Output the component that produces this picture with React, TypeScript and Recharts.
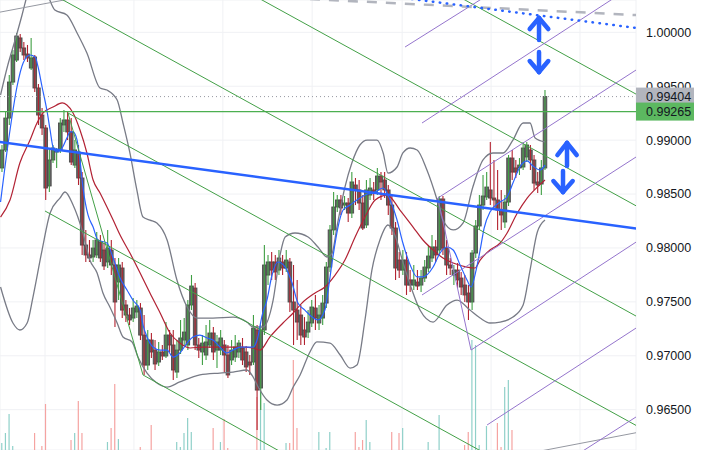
import React from 'react';
import { ComposedChart, Bar, Line, XAxis, YAxis, ReferenceLine, Cell, CartesianGrid } from 'recharts';

// ---------- candle data (price) ----------
const opens = [
  0.98742, 0.98909, 0.99205, 0.99539, 0.99743, 0.99948, 0.99855, 0.99799, 0.99669, 0.99771,
  0.99484, 0.99233, 0.99113, 0.98575, 0.98816, 0.98890, 0.98909, 0.99141, 0.99187, 0.99076,
  0.98769, 0.98890, 0.98649, 0.98027, 0.97935, 0.97916, 0.97935, 0.98055, 0.97981, 0.97870,
  0.97981, 0.97842, 0.97684, 0.97814, 0.97471, 0.97378, 0.97350, 0.97406, 0.97443, 0.97192,
  0.96914, 0.97146, 0.97053, 0.96942, 0.97035, 0.96998, 0.97192, 0.97100, 0.96849, 0.97053,
  0.97146, 0.97100, 0.97471, 0.97628, 0.97100, 0.97035, 0.97007, 0.97100, 0.97211, 0.97053,
  0.97053, 0.97100, 0.97007, 0.96961, 0.96988, 0.97035, 0.97072, 0.97035, 0.96942, 0.96942,
  0.97239, 0.96701, 0.97239, 0.97749, 0.97870, 0.97870, 0.97795, 0.97870, 0.97814, 0.97870,
  0.97499, 0.97424, 0.97378, 0.97239, 0.97220, 0.97304, 0.97443, 0.97304, 0.97350, 0.97489,
  0.97823, 0.98167, 0.98380, 0.98445, 0.98398, 0.98417, 0.98324, 0.98584, 0.98538, 0.98417,
  0.98213, 0.98491, 0.98538, 0.98538, 0.98667, 0.98630, 0.98538, 0.98398, 0.98185, 0.97888,
  0.97795, 0.97888, 0.97703, 0.97656, 0.97684, 0.97656, 0.97721, 0.97814, 0.97907, 0.98009,
  0.97981, 0.98454, 0.97999, 0.97842, 0.97749, 0.97795, 0.97721, 0.97656, 0.97582, 0.97499,
  0.97953, 0.98204, 0.98398, 0.98473, 0.98538, 0.98463, 0.98445, 0.98352, 0.98241, 0.98426,
  0.98834, 0.98742, 0.98742, 0.98751, 0.98844, 0.98909, 0.98816, 0.98612, 0.98593, 0.98742,
];
const highs = [
  0.98955, 0.99261, 0.99604, 0.99836, 0.99994, 0.99985, 0.99910, 0.99883, 0.99948, 0.99790,
  0.99521, 0.99298, 0.99141, 0.98909, 0.98955, 0.98927, 0.99205, 0.99280, 0.99261, 0.99205,
  0.99001, 0.98955, 0.98704, 0.98167, 0.98074, 0.98074, 0.98148, 0.98120, 0.98046, 0.98167,
  0.98074, 0.97907, 0.97907, 0.97870, 0.97517, 0.97443, 0.97536, 0.97517, 0.97489, 0.97378,
  0.97239, 0.97211, 0.97146, 0.97128, 0.97100, 0.97313, 0.97239, 0.97239, 0.97146, 0.97332,
  0.97350, 0.97517, 0.97749, 0.97675, 0.97165, 0.97192, 0.97285, 0.97332, 0.97267, 0.97192,
  0.97239, 0.97146, 0.97100, 0.97146, 0.97192, 0.97146, 0.97165, 0.97090, 0.97007, 0.97378,
  0.97285, 0.97285, 0.98027, 0.97935, 0.97962, 0.97935, 0.97981, 0.97935, 0.97981, 0.97907,
  0.97842, 0.97703, 0.97471, 0.97359, 0.97424, 0.97517, 0.97564, 0.97471, 0.97564, 0.97870,
  0.98213, 0.98519, 0.98491, 0.98491, 0.98482, 0.98463, 0.98704, 0.98649, 0.98630, 0.98491,
  0.98630, 0.98649, 0.98612, 0.98742, 0.98704, 0.98704, 0.98584, 0.98491, 0.98241, 0.97962,
  0.97981, 0.97962, 0.97795, 0.97842, 0.97795, 0.97795, 0.97888, 0.98027, 0.98120, 0.98074,
  0.98482, 0.98482, 0.98074, 0.97907, 0.97842, 0.97860, 0.97777, 0.97749, 0.97656, 0.97981,
  0.98259, 0.98491, 0.98677, 0.98704, 0.98983, 0.98816, 0.98723, 0.98538, 0.98491, 0.98862,
  0.98909, 0.98816, 0.98834, 0.98983, 0.98983, 0.98955, 0.98862, 0.98704, 0.98816, 0.99465,
];
const lows = [
  0.98704, 0.98890, 0.99141, 0.99512, 0.99725, 0.99818, 0.99743, 0.99725, 0.99651, 0.99447,
  0.99141, 0.99048, 0.98445, 0.98519, 0.98788, 0.98742, 0.98881, 0.99076, 0.99001, 0.98769,
  0.98742, 0.98584, 0.97935, 0.97870, 0.97870, 0.97870, 0.97907, 0.97870, 0.97795, 0.97814,
  0.97749, 0.97267, 0.97517, 0.97350, 0.97313, 0.97285, 0.97313, 0.97350, 0.97146, 0.96822,
  0.96868, 0.96979, 0.96868, 0.96905, 0.96961, 0.96979, 0.97035, 0.96775, 0.96794, 0.97016,
  0.97090, 0.97053, 0.97424, 0.97053, 0.96979, 0.96914, 0.96961, 0.97072, 0.96961, 0.96886,
  0.97007, 0.96849, 0.96794, 0.96914, 0.96942, 0.96979, 0.96914, 0.96849, 0.96822, 0.96914,
  0.96311, 0.96497, 0.97192, 0.97656, 0.97703, 0.97703, 0.97749, 0.97749, 0.97777, 0.97406,
  0.97100, 0.97146, 0.97100, 0.97100, 0.97165, 0.97267, 0.97239, 0.97239, 0.97285, 0.97443,
  0.97777, 0.98120, 0.98334, 0.98306, 0.98352, 0.98241, 0.98278, 0.98398, 0.98352, 0.98167,
  0.98185, 0.98445, 0.98445, 0.98491, 0.98445, 0.98463, 0.98306, 0.98120, 0.97703, 0.97721,
  0.97749, 0.97564, 0.97591, 0.97610, 0.97610, 0.97591, 0.97684, 0.97777, 0.97870, 0.97870,
  0.97935, 0.97935, 0.97749, 0.97749, 0.97656, 0.97628, 0.97564, 0.97499, 0.97332, 0.97424,
  0.97907, 0.98167, 0.98352, 0.98445, 0.98398, 0.98352, 0.98167, 0.98167, 0.98185, 0.98389,
  0.98630, 0.98649, 0.98677, 0.98723, 0.98797, 0.98723, 0.98538, 0.98510, 0.98491, 0.98723,
];
const closes = [
  0.98909, 0.99205, 0.99539, 0.99790, 0.99966, 0.99855, 0.99790, 0.99762, 0.99762, 0.99484,
  0.99233, 0.99113, 0.98556, 0.98816, 0.98927, 0.98909, 0.99159, 0.99187, 0.99076, 0.98797,
  0.98909, 0.98649, 0.98027, 0.97935, 0.97907, 0.97999, 0.98074, 0.97907, 0.97833, 0.97999,
  0.97842, 0.97499, 0.97842, 0.97424, 0.97378, 0.97332, 0.97443, 0.97461, 0.97192, 0.96914,
  0.97146, 0.97035, 0.96924, 0.97035, 0.96998, 0.97192, 0.97100, 0.96868, 0.97053, 0.97165,
  0.97220, 0.97471, 0.97647, 0.97100, 0.97053, 0.97118, 0.97128, 0.97211, 0.97035, 0.97128,
  0.97165, 0.97007, 0.96822, 0.97053, 0.97081, 0.97118, 0.96961, 0.96896, 0.96914, 0.97257,
  0.96682, 0.97239, 0.97842, 0.97870, 0.97795, 0.97777, 0.97907, 0.97814, 0.97888, 0.97499,
  0.97424, 0.97313, 0.97192, 0.97174, 0.97313, 0.97452, 0.97350, 0.97378, 0.97489, 0.97823,
  0.98167, 0.98380, 0.98445, 0.98371, 0.98417, 0.98324, 0.98612, 0.98538, 0.98417, 0.98185,
  0.98538, 0.98556, 0.98510, 0.98667, 0.98612, 0.98538, 0.98398, 0.98185, 0.97814, 0.97795,
  0.97888, 0.97656, 0.97656, 0.97703, 0.97647, 0.97721, 0.97823, 0.97925, 0.98009, 0.97935,
  0.98454, 0.97999, 0.97842, 0.97814, 0.97795, 0.97703, 0.97638, 0.97564, 0.97499, 0.97953,
  0.98204, 0.98398, 0.98482, 0.98565, 0.98463, 0.98445, 0.98352, 0.98306, 0.98426, 0.98834,
  0.98704, 0.98704, 0.98769, 0.98927, 0.98955, 0.98816, 0.98602, 0.98584, 0.98742, 0.99404,
];
const volumes = [
  7, 17, 36, 4, 0, 0, 0, 0, 0, 17,
  0, 4, 46, 0, 0, 0, 0, 0, 0, 10,
  17, 49, 17, 0, 0, 0, 0, 0, 0, 8,
  22, 66, 11, 0, 0, 0, 0, 0, 3, 0,
  0, 25, 0, 0, 0, 0, 0, 0, 8, 3,
  17, 32, 18, 0, 0, 0, 0, 0, 22, 0,
  8, 31, 2, 0, 0, 0, 0, 0, 0, 0,
  53, 60, 47, 0, 0, 0, 0, 0, 7, 7,
  90, 22, 0, 0, 0, 0, 0, 18, 0, 2,
  18, 0, 0, 0, 0, 0, 0, 18, 3, 10,
  30, 8, 0, 0, 0, 0, 0, 18, 0, 17,
  22, 0, 0, 0, 0, 0, 0, 8, 0, 0,
  35, 0, 0, 0, 0, 0, 0, 5, 18, 110,
  105, 5, 0, 24, 0, 0, 27, 3, 63, 70,
  20, 0, 0, 0, 0, 0, 0, 0, 0, 0,
];

// ---------- indicator lines: [bar index, price] ----------
const fastMA = [
  [-0.4, 0.98426], [2.2, 0.99094], [4.1, 0.99493], [5.8, 0.99716], [7.7, 0.9979], [9.1, 0.99771],
  [9.9, 0.99679], [11.0, 0.99493], [12.3, 0.9928], [13.2, 0.99094], [14.0, 0.98936], [15.1, 0.9889],
  [16.5, 0.98927], [17.8, 0.9902], [18.7, 0.99076], [19.5, 0.99076], [20.6, 0.99001], [21.4, 0.98816],
  [22.2, 0.98565], [23.6, 0.98306], [25.0, 0.98194], [26.3, 0.98074], [28.8, 0.98046], [30.5, 0.97907],
  [32.4, 0.97721], [34.3, 0.9761], [35.9, 0.97517], [37.9, 0.97424], [38.7, 0.97285], [39.8, 0.97174],
  [41.4, 0.97081], [43.4, 0.97053], [45.3, 0.97053], [46.9, 0.96988], [48.8, 0.97026], [50.8, 0.97118],
  [52.4, 0.97174], [54.3, 0.97192], [56.3, 0.97165], [57.9, 0.97146], [59.8, 0.97081], [61.7, 0.97026],
  [63.4, 0.97053], [65.3, 0.97081], [67.2, 0.97081], [68.9, 0.97081], [70.0, 0.97146], [71.4, 0.97378],
  [72.7, 0.97517], [74.1, 0.97749], [75.7, 0.9787], [77.7, 0.97823], [79.6, 0.97675], [81.2, 0.97489],
  [83.1, 0.97424], [85.1, 0.97359], [86.7, 0.97332], [88.6, 0.97424], [89.5, 0.9761], [90.8, 0.97916],
  [92.2, 0.98194], [93.6, 0.98352], [95.5, 0.98398], [97.4, 0.98445], [99.6, 0.98491], [102.4, 0.98519],
  [104.6, 0.98556], [106.5, 0.98445], [108.4, 0.98259], [110.0, 0.98046], [112.0, 0.97842], [113.9, 0.97731],
  [115.5, 0.97731], [118.3, 0.97823], [120.2, 0.97953], [122.1, 0.98009], [123.8, 0.97981], [125.7, 0.97842],
  [127.6, 0.97703], [128.7, 0.97638], [130.1, 0.97795], [131.2, 0.97981], [132.3, 0.98185], [133.9, 0.98334],
  [136.7, 0.98426], [138.6, 0.98473], [140.2, 0.98602], [142.1, 0.98751], [144.1, 0.98807], [145.7, 0.9876],
  [147.6, 0.98723], [149.0, 0.98769],
];
const slowMA = [
  [-0.4, 0.98287], [2.2, 0.98445], [4.9, 0.98788], [7.7, 0.99001], [9.6, 0.99159], [11.3, 0.99252],
  [14.0, 0.99307], [16.5, 0.99345], [17.8, 0.99326], [19.5, 0.99252], [21.4, 0.99094], [23.3, 0.98881],
  [25.0, 0.9863], [26.9, 0.9851], [28.8, 0.9838], [30.5, 0.98259], [32.4, 0.9812], [35.1, 0.97953],
  [37.9, 0.97768], [40.6, 0.97582], [43.4, 0.97397], [46.1, 0.97211], [48.8, 0.97118], [51.6, 0.97072],
  [55.2, 0.97081], [59.0, 0.97081], [62.6, 0.97081], [66.1, 0.97081], [68.9, 0.97072], [70.8, 0.97053],
  [73.5, 0.97174], [77.1, 0.97304], [79.9, 0.97397], [82.3, 0.97489], [85.9, 0.97582], [88.6, 0.97638],
  [91.4, 0.97749], [94.1, 0.97888], [96.9, 0.98102], [99.6, 0.98287], [102.4, 0.98445], [105.7, 0.98491],
  [109.2, 0.98352], [112.8, 0.98194], [115.5, 0.98074], [118.3, 0.97981], [121.0, 0.97907], [123.8, 0.9786],
  [127.6, 0.97823], [129.8, 0.97814], [131.2, 0.97888], [133.9, 0.97981], [136.7, 0.98046], [138.6, 0.98139],
  [141.4, 0.98324], [144.1, 0.98463], [146.9, 0.98565], [149.0, 0.9863],
];
const bandUpper = [
  [-0.4, 0.99419], [1.6, 0.99697], [3.6, 0.99929], [5.5, 1.00161], [6.9, 1.00346], [9.6, 1.00671],
  [12.6, 1.00346], [14.5, 1.00207], [17.8, 1.00161], [20.6, 0.99994], [23.3, 0.99808], [26.9, 0.99484],
  [28.8, 0.99465], [31.6, 0.99372], [33.2, 0.99159], [35.1, 0.98881], [37.0, 0.98538], [38.7, 0.98287],
  [40.6, 0.98259], [42.5, 0.98231], [45.3, 0.98074], [48.0, 0.97703], [50.8, 0.97452], [53.5, 0.9735],
  [57.9, 0.9735], [63.4, 0.97359], [67.2, 0.97313], [68.9, 0.97267], [71.6, 0.97267], [74.4, 0.97517],
  [76.3, 0.97935], [77.7, 0.98102], [80.4, 0.98139], [84.0, 0.98102], [86.7, 0.98009], [89.2, 0.97916],
  [90.6, 0.97953], [91.9, 0.98194], [94.1, 0.98565], [96.0, 0.98788], [98.2, 0.98955], [100.2, 0.99001],
  [102.9, 0.99001], [104.6, 0.98881], [105.9, 0.98695], [108.4, 0.98751], [110.0, 0.98881], [112.0, 0.98927],
  [113.9, 0.98909], [116.6, 0.98723], [119.4, 0.98445], [121.0, 0.98259], [123.8, 0.98167], [126.5, 0.98231],
  [129.2, 0.98565], [132.0, 0.98816], [134.7, 0.98881], [137.5, 0.98881], [140.2, 0.99001], [143.0, 0.99159],
  [144.9, 0.99159], [146.3, 0.9902], [149.0, 0.98983],
];
const bandLower = [
  [-0.4, 0.97638], [3.0, 0.97304], [4.9, 0.97239], [6.9, 0.97304], [8.5, 0.97545], [11.0, 0.97981],
  [13.2, 0.98324], [15.9, 0.98463], [17.3, 0.98519], [19.5, 0.98398], [22.2, 0.98139], [24.1, 0.97888],
  [26.1, 0.97768], [27.7, 0.97582], [29.6, 0.97452], [31.6, 0.97304], [33.2, 0.97174], [35.7, 0.97128],
  [37.3, 0.96988], [39.8, 0.9684], [42.5, 0.96747], [45.3, 0.9671], [48.8, 0.96757], [54.3, 0.96822],
  [59.8, 0.9684], [63.4, 0.96849], [67.2, 0.96868], [68.9, 0.96803], [70.3, 0.9671], [72.7, 0.9659],
  [75.5, 0.96543], [78.2, 0.9659], [79.9, 0.9671], [81.8, 0.96822], [84.5, 0.97035], [86.4, 0.97128],
  [90.0, 0.97118], [92.8, 0.97007], [95.5, 0.96886], [97.4, 0.96914], [99.6, 0.97332], [101.5, 0.97795],
  [103.7, 0.98074], [105.9, 0.98213], [107.8, 0.9812], [110.0, 0.9787], [112.5, 0.9761], [114.7, 0.97424],
  [118.3, 0.97313], [122.1, 0.97471], [124.9, 0.97517], [128.4, 0.97424], [131.2, 0.9735], [133.9, 0.97304],
  [136.7, 0.97313], [140.2, 0.97359], [143.0, 0.97471], [144.9, 0.97795], [146.9, 0.98148], [149.0, 0.98259],
];

// ---------- axis / levels ----------
const priceTicks = [0.965, 0.97, 0.975, 0.98, 0.985, 0.99, 0.995, 1.0];
const gridIdx = [11.8, 36.2, 60.6, 85.1, 109.8, 134.2, 158.6];
const lastPrice = 0.99404;
const levelPrice = 0.99265;

// ---------- drawings: [[index, price], [index, price]] ----------
const greenLines = [
  [[14.54, 1.00341], [177.8, 0.97297]],
  [[18.11, 0.99252], [177.8, 0.96283]],
  [[18.11, 0.99252], [38.69, 0.96822]],
  [[11.8, 0.98343], [133.9, 0.9607]],
  [[38.69, 0.96822], [79.03, 0.96061]],
  [[69.42, 1.00336], [177.8, 0.9832]],
  [[124.3, 1.00351], [177.8, 0.99356]],
];
const purpleLines = [
  [[110.6, 0.99864], [132.5, 1.00329]],
  [[115.25, 0.99159], [169.6, 1.00355]],
  [[119.6, 0.98463], [177.8, 0.99734]],
  [[119.6, 0.98463], [128.7, 0.97053]],
  [[115.25, 0.97564], [177.8, 0.98927]],
  [[128.7, 0.97053], [177.8, 0.98139]],
  [[133.1, 0.96358], [177.8, 0.97341]],
  [[157.2, 0.9607], [177.8, 0.96515]],
];
const greyLines = [
  [[-3.29, 1.0017], [20.03, 1.00319]],
  [[144.9, 0.96098], [177.8, 0.96311]],
];
const blueTrend = [[-3.29, 0.98996], [177.8, 0.98163]];
const blueDotted = [[112.5, 1.00309], [177.8, 1.00024]];
const greyDashed = [[84.5, 1.00309], [177.8, 1.00154]];
const arrows = [
  { tip: [147.36, 1.00133], tail: [147.36, 0.99929], left: [144.8, 1.00031], right: [149.9, 1.00031] },
  { tip: [147.36, 0.99632], tail: [147.36, 0.99818], left: [144.8, 0.99734], right: [149.9, 0.99734] },
  { tip: [155.04, 0.98974], tail: [155.04, 0.9876], left: [152.4, 0.98862], right: [157.7, 0.98862] },
  { tip: [153.94, 0.98519], tail: [153.94, 0.98714], left: [151.3, 0.98621], right: [156.6, 0.98621] },
];

const candles = opens.map((o, i) => ({ i, o, h: highs[i], l: lows[i], c: closes[i], v: volumes[i] }));
const toPts = (arr: number[][]) => arr.map(([i, p]) => ({ i, p }));
const seg = (s: number[][]) => [{ x: s[0][0], y: s[0][1] }, { x: s[1][0], y: s[1][1] }];

const FONT = '"Liberation Sans", Arial, sans-serif';
const X_DOMAIN: [number, number] = [-0.5488, 173.97];
const Y_DOMAIN: [number, number] = [0.96126, 1.003];
const levelSeg = [[X_DOMAIN[0], levelPrice], [X_DOMAIN[1], levelPrice]];
const lastSeg = [[X_DOMAIN[0], lastPrice], [X_DOMAIN[1], lastPrice]];

function Candle(props: any) {
  const { x, y, width, height, payload } = props;
  if (!payload || x == null || y == null) return null;
  const top = Math.min(y, y + height);
  const bot = Math.max(y, y + height);
  const { o, h, l, c } = payload;
  const span = h - l || 1e-9;
  const py = (v: number) => top + ((h - v) / span) * (bot - top);
  const cx = x + width / 2;
  const up = c >= o;
  const wick = up ? '#3f9f43' : '#b2222f';
  const yo = py(o);
  const yc = py(c);
  const bt = Math.min(yo, yc);
  const bh = Math.max(Math.abs(yo - yc), 1.2);
  return (
    <g>
      <rect x={cx - 1.8} y={bt} width={3.6} height={bh} fill="#666666" stroke="#4a4a4a" strokeWidth={0.9} />
      <line x1={cx} x2={cx} y1={top} y2={bot} stroke={wick} strokeWidth={1.1} />
    </g>
  );
}

function PriceTag(props: any) {
  const { viewBox, text, bg } = props;
  if (!viewBox) return null;
  const { x, y, width } = viewBox;
  return (
    <g>
      <rect x={x + width} y={y - 9} width={58} height={18} fill={bg} />
      <text x={x + width + 10} y={y + 4.5} fontSize={12.5} fill="#131722" fontFamily={FONT}>{text}</text>
    </g>
  );
}

export default function App() {
  const common = { xAxisId: 'p', yAxisId: 'price' } as any;
  return (
    <div style={{ position: 'absolute', left: 0, top: 0, width: 703, height: 450, background: '#ffffff' }}>
      <div style={{ position: 'absolute', left: 0, top: 0 }}>
        <ComposedChart width={703} height={450} data={candles} margin={{ top: 0, right: 0, bottom: 0, left: 0 }}>
          <XAxis xAxisId="p" dataKey="i" type="number" domain={X_DOMAIN} allowDataOverflow hide ticks={gridIdx} />
          <XAxis xAxisId="v" dataKey="i" type="number" domain={X_DOMAIN} allowDataOverflow hide />
          <YAxis
            yAxisId="price"
            orientation="right"
            width={67}
            domain={Y_DOMAIN}
            allowDataOverflow
            ticks={priceTicks}
            tickFormatter={(v: number) => v.toFixed(5)}
            axisLine={false}
            tickLine={false}
            tickSize={0}
            tickMargin={10}
            tick={{ fontSize: 12.5, fill: '#131722', fontFamily: FONT }}
          />
          <YAxis yAxisId="vol" hide domain={[0, 450]} allowDataOverflow />
          <CartesianGrid xAxisId="p" yAxisId="price" stroke="#f0f1f4" strokeWidth={1} />

          <Bar xAxisId="v" yAxisId="vol" dataKey="v" barSize={1.2} isAnimationActive={false}>
            {candles.map((d, k) => (
              <Cell key={k} fill={d.c >= d.o ? '#8fd0c9' : '#f5a3a1'} />
            ))}
          </Bar>

          <Line {...common} data={toPts(bandUpper)} dataKey="p" type="monotone" stroke="#787b86" strokeWidth={1.3} dot={false} activeDot={false} isAnimationActive={false} />
          <Line {...common} data={toPts(bandLower)} dataKey="p" type="monotone" stroke="#787b86" strokeWidth={1.3} dot={false} activeDot={false} isAnimationActive={false} />
          <Line {...common} data={toPts(slowMA)} dataKey="p" type="monotone" stroke="#b22234" strokeWidth={1.2} dot={false} activeDot={false} isAnimationActive={false} />
          <Line {...common} data={toPts(fastMA)} dataKey="p" type="monotone" stroke="#2962ff" strokeWidth={1.2} dot={false} activeDot={false} isAnimationActive={false} />

          <Bar {...common} dataKey={(d: any) => [d.l, d.h]} barSize={3} isAnimationActive={false} shape={(p: any) => <Candle {...p} />} />

          <ReferenceLine {...common} segment={seg(lastSeg)} ifOverflow="hidden" stroke="#9598a1" strokeWidth={1} strokeDasharray="1 3" />
          <ReferenceLine {...common} segment={seg(levelSeg)} ifOverflow="hidden" stroke="#4caf50" strokeWidth={1.2} />

          {greyLines.map((s, k) => (
            <ReferenceLine key={'g' + k} {...common} segment={seg(s)} ifOverflow="hidden" stroke="#9598a1" strokeWidth={1} />
          ))}
          {greenLines.map((s, k) => (
            <ReferenceLine key={'gr' + k} {...common} segment={seg(s)} ifOverflow="hidden" stroke="#43a047" strokeWidth={1} />
          ))}
          {purpleLines.map((s, k) => (
            <ReferenceLine key={'pu' + k} {...common} segment={seg(s)} ifOverflow="hidden" stroke="#9575cd" strokeWidth={1} />
          ))}
          <ReferenceLine {...common} segment={seg(greyDashed)} ifOverflow="hidden" stroke="#b2b5be" strokeWidth={2.5} strokeDasharray="10 9" />
          <ReferenceLine {...common} segment={seg(blueDotted)} ifOverflow="hidden" stroke="#2962ff" strokeWidth={2.5} strokeDasharray="0.5 6.5" strokeLinecap="round" />
          <ReferenceLine {...common} segment={seg(blueTrend)} ifOverflow="hidden" stroke="#2962ff" strokeWidth={2.5} />

          {arrows.map((a, k) => [
            <ReferenceLine key={'as' + k} {...common} segment={seg([a.tail, a.tip])} ifOverflow="visible" stroke="#2962ff" strokeWidth={4.5} strokeLinecap="round" />,
            <ReferenceLine key={'al' + k} {...common} segment={seg([a.left, a.tip])} ifOverflow="visible" stroke="#2962ff" strokeWidth={4.5} strokeLinecap="round" />,
            <ReferenceLine key={'ar' + k} {...common} segment={seg([a.right, a.tip])} ifOverflow="visible" stroke="#2962ff" strokeWidth={4.5} strokeLinecap="round" />,
          ])}
        </ComposedChart>
      </div>
      <div style={{ position: 'absolute', left: 0, top: 0, pointerEvents: 'none' }}>
        <ComposedChart width={703} height={450} data={candles} margin={{ top: 0, right: 67, bottom: 0, left: 0 }}>
          <XAxis xAxisId="p" dataKey="i" type="number" domain={X_DOMAIN} allowDataOverflow hide />
          <YAxis yAxisId="price" domain={Y_DOMAIN} allowDataOverflow hide />
          <ReferenceLine xAxisId="p" yAxisId="price" y={lastPrice} stroke="none" strokeOpacity={0}
            label={(p: any) => <PriceTag {...p} text={lastPrice.toFixed(5)} bg="#b2b5be" />} />
          <ReferenceLine xAxisId="p" yAxisId="price" y={levelPrice} stroke="none" strokeOpacity={0}
            label={(p: any) => <PriceTag {...p} text={levelPrice.toFixed(5)} bg="#5cb860" />} />
        </ComposedChart>
      </div>
    </div>
  );
}
